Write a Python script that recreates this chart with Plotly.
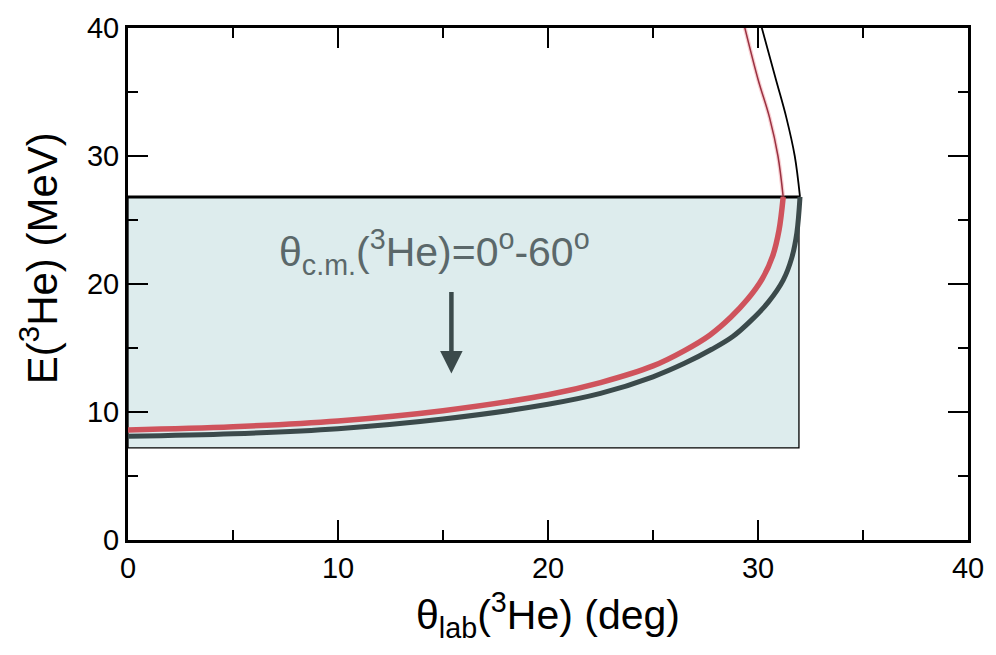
import plotly.graph_objects as go

# Kinematic curves: E(3He) vs theta_lab(3He)
# Lower branch (thick) for theta_cm = 0-60 deg, upper branch (thin) beyond
red_low_theta = [0.0, 5.0, 10.0, 15.0, 20.0, 22.5, 25.0, 26.5, 27.7, 28.7, 29.5, 30.2, 30.7, 31.0, 31.2]
red_low_E = [8.6, 8.85, 9.3, 10.1, 11.35, 12.3, 13.6, 14.8, 16.0, 17.4, 18.8, 20.4, 22.2, 24.2, 26.8]

dark_low_theta = [0.0, 5.0, 10.0, 15.0, 20.0, 22.5, 25.0, 26.5, 27.8, 28.8, 29.7, 30.5, 31.2, 31.6, 31.85, 32.0]
dark_low_E = [8.1, 8.3, 8.7, 9.45, 10.6, 11.45, 12.75, 13.8, 14.9, 15.9, 17.2, 18.6, 20.3, 22.0, 24.0, 26.8]

red_up_theta = [31.2, 30.95, 30.55, 30.0, 29.3]
red_up_E = [26.8, 30.0, 33.0, 36.0, 40.5]

dark_up_theta = [32.0, 31.75, 31.35, 30.85, 30.1]
dark_up_E = [26.8, 30.0, 33.0, 36.0, 40.5]

# Accepted region box
box_theta = [0.0, 31.95]
box_E = [7.2, 26.8]

x_ticks = [0, 10, 20, 30, 40]
y_ticks = [0, 10, 20, 30, 40]

RED = "#cf535c"
DARK = "#3b4a4b"
FILL = "#ddeced"

fig = go.Figure()

# shaded region (fill + thin right/bottom edges)
fig.add_trace(go.Scatter(
    x=[box_theta[0], box_theta[1], box_theta[1], box_theta[0], box_theta[0]],
    y=[box_E[0], box_E[0], box_E[1], box_E[1], box_E[0]],
    fill="toself", fillcolor=FILL, mode="lines",
    line=dict(color="black", width=1.3), hoverinfo="skip", showlegend=False))
# thick top edge
fig.add_trace(go.Scatter(
    x=[box_theta[0], dark_up_theta[0]], y=[box_E[1], box_E[1]],
    mode="lines", line=dict(color="black", width=3), showlegend=False))

# upper branches (thin)
fig.add_trace(go.Scatter(x=red_up_theta, y=red_up_E, mode="lines",
                         line=dict(color="rgba(235,120,130,0.35)", width=4),
                         line_shape="spline", showlegend=False))
fig.add_trace(go.Scatter(x=red_up_theta, y=red_up_E, mode="lines",
                         line=dict(color="#9a3040", width=1.5),
                         line_shape="spline", showlegend=False))
fig.add_trace(go.Scatter(x=dark_up_theta, y=dark_up_E, mode="lines",
                         line=dict(color="black", width=1.8),
                         line_shape="spline", showlegend=False))

# lower branches (thick)
fig.add_trace(go.Scatter(x=dark_low_theta, y=dark_low_E, mode="lines",
                         line=dict(color=DARK, width=5),
                         line_shape="spline", showlegend=False))
fig.add_trace(go.Scatter(x=red_low_theta, y=red_low_E, mode="lines",
                         line=dict(color=RED, width=5.5),
                         line_shape="spline", showlegend=False))

font_family = "Liberation Sans, Arial, sans-serif"

fig.add_annotation(
    x=14.6, y=22.5, xref="x", yref="y", showarrow=False,
    text="θ<sub>c.m.</sub>(<sup>3</sup>He)=0<sup>o</sup>-60<sup>o</sup>",
    font=dict(family=font_family, size=41, color="#5b686a"))
fig.add_annotation(
    x=15.4, y=13.0, ax=15.4, ay=19.5, xref="x", yref="y", axref="x", ayref="y",
    showarrow=True, arrowhead=2, arrowsize=1.0, arrowwidth=4.5, arrowcolor=DARK, text="")

# y-axis title, placed slightly above the axis centre
fig.add_annotation(
    x=-0.105, y=0.55, xref="paper", yref="paper", showarrow=False,
    text="E(<sup>3</sup>He) (MeV)", textangle=-90,
    xanchor="center", yanchor="middle",
    font=dict(family=font_family, size=42, color="black"))

axis_common = dict(
    showline=True, linewidth=3, linecolor="black", mirror="ticks",
    ticks="inside", ticklen=20, tickwidth=2, tickcolor="black",
    showgrid=False, zeroline=False,
    tickfont=dict(family=font_family, size=29, color="black"),
    minor=dict(ticks="inside", ticklen=10, tickwidth=2, tickcolor="black", dtick=5, showgrid=False),
)

fig.update_xaxes(range=[0, 40], tickvals=x_ticks, ticktext=[str(v) for v in x_ticks],
                 title=dict(text="θ<sub>lab</sub>(<sup>3</sup>He) (deg)",
                            font=dict(family=font_family, size=41, color="black"), standoff=18),
                 **axis_common)
fig.update_yaxes(range=[0, 40], tickvals=y_ticks, ticktext=[str(v) for v in y_ticks],
                 **axis_common)

fig.update_layout(
    width=996, height=655,
    margin=dict(l=128, r=26, t=20, b=115),
    paper_bgcolor="white", plot_bgcolor="white",
    showlegend=False,
)

fig.write_html("out.html")
